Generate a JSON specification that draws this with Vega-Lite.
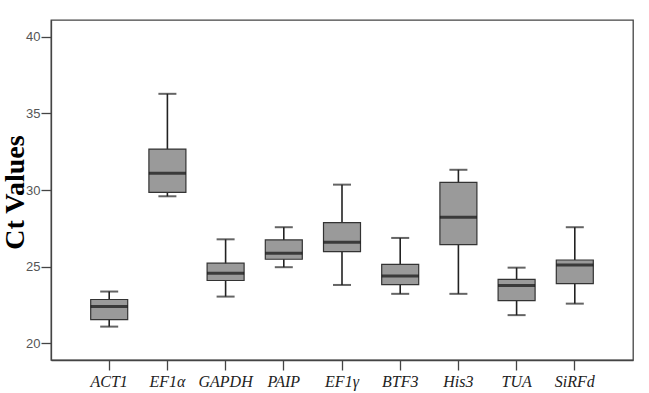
{
  "$schema": "https://vega.github.io/schema/vega-lite/v6.json",
  "width": 582,
  "height": 340,
  "autosize": {"type": "none"},
  "padding": {"left": 51, "top": 20, "right": 16, "bottom": 33},
  "background": "white",
  "config": {
    "view": {"stroke": "#444444", "strokeWidth": 1.3},
    "font": "Liberation Serif"
  },
  "data": {
    "values": [
      {"gene": "ACT1", "min": 21.08, "q1": 21.54, "median": 22.39, "q3": 22.85, "max": 23.37},
      {"gene": "EF1α", "min": 29.59, "q1": 29.85, "median": 31.09, "q3": 32.67, "max": 36.28},
      {"gene": "GAPDH", "min": 23.04, "q1": 24.09, "median": 24.57, "q3": 25.22, "max": 26.78},
      {"gene": "PAIP", "min": 24.96, "q1": 25.48, "median": 25.87, "q3": 26.74, "max": 27.57},
      {"gene": "EF1γ", "min": 23.80, "q1": 25.98, "median": 26.59, "q3": 27.87, "max": 30.35},
      {"gene": "BTF3", "min": 23.22, "q1": 23.82, "median": 24.39, "q3": 25.15, "max": 26.87},
      {"gene": "His3", "min": 23.22, "q1": 26.43, "median": 28.22, "q3": 30.50, "max": 31.32},
      {"gene": "TUA", "min": 21.83, "q1": 22.78, "median": 23.76, "q3": 24.17, "max": 24.93},
      {"gene": "SiRFd", "min": 22.58, "q1": 23.89, "median": 25.11, "q3": 25.43, "max": 27.57}
    ]
  },
  "encoding": {
    "x": {
      "field": "gene",
      "type": "nominal",
      "sort": null,
      "scale": {"paddingInner": 0.36, "paddingOuter": 0.68},
      "axis": {
        "title": null,
        "labelAngle": 0,
        "labelFont": "Liberation Serif",
        "labelFontStyle": "italic",
        "labelFontSize": 16,
        "labelColor": "#222222",
        "labelPadding": 3,
        "tickSize": 10,
        "tickColor": "#444444",
        "tickWidth": 1.3,
        "domainColor": "#444444",
        "domainWidth": 1.3
      }
    }
  },
  "layer": [
    {
      "mark": {"type": "rule", "color": "#222222", "strokeWidth": 1.6},
      "encoding": {
        "y": {
          "field": "min",
          "type": "quantitative",
          "scale": {"domain": [18.9, 41.1], "nice": false, "zero": false},
          "axis": {
            "title": "Ct Values",
            "titleFont": "Liberation Serif",
            "titleFontSize": 28,
            "titleFontWeight": "bold",
            "titleColor": "#000000",
            "titleBaseline": "alphabetic",
            "titleX": -28,
            "titleY": 172,
            "values": [20, 25, 30, 35, 40],
            "grid": false,
            "labelFont": "Liberation Sans",
            "labelFontSize": 13,
            "labelColor": "#555555",
            "labelPadding": 1,
            "tickSize": 10,
            "tickColor": "#444444",
            "tickWidth": 1.3,
            "domainColor": "#444444",
            "domainWidth": 1.3
          }
        },
        "y2": {"field": "max"}
      }
    },
    {
      "mark": {"type": "tick", "color": "#222222", "size": 18, "thickness": 2},
      "encoding": {"y": {"field": "min", "type": "quantitative"}}
    },
    {
      "mark": {"type": "tick", "color": "#222222", "size": 18, "thickness": 2},
      "encoding": {"y": {"field": "max", "type": "quantitative"}}
    },
    {
      "mark": {"type": "bar", "fill": "#9a9a9a", "stroke": "#333333", "strokeWidth": 1.2, "size": 37},
      "encoding": {
        "y": {"field": "q1", "type": "quantitative"},
        "y2": {"field": "q3"}
      }
    },
    {
      "mark": {"type": "tick", "color": "#111111", "size": 37, "thickness": 3},
      "encoding": {"y": {"field": "median", "type": "quantitative"}}
    }
  ]
}
